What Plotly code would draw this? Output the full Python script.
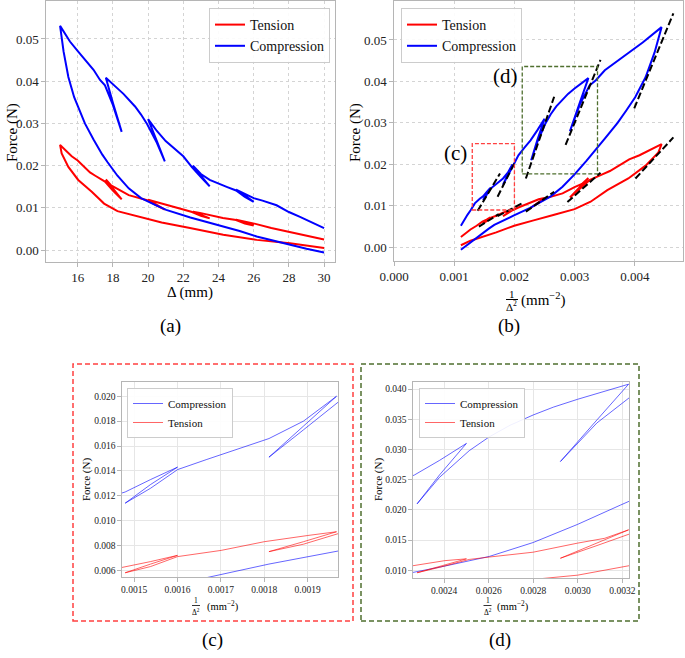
import plotly.graph_objects as go

# ---------------- data ----------------
# Compression path: displacement Delta (mm) and force (N)
comp_delta = [30.0, 29.5, 29.0, 28.6, 28.0, 27.3, 26.5, 26.0, 25.5, 25.0,
              25.5, 26.0, 25.5, 25.0,
              24.5, 24.0, 23.5, 23.0, 22.55,
              23.0, 23.5, 23.0, 22.5,
              22.0, 21.5, 21.0, 20.5, 20.0,
              20.5, 20.95, 20.5, 19.95,
              19.6, 19.26, 18.9, 18.6, 18.26, 17.93, 17.6,
              18.0, 18.5, 18.0, 17.55,
              17.27, 16.9, 16.41, 16.03, 15.56, 15.0,
              15.2, 15.47, 15.8, 16.1, 16.41, 16.9, 17.4, 17.7, 18.26, 18.9,
              19.6, 20.4, 21.03, 22.4, 23.5, 24.5, 25.2, 26.17, 27.0, 28.06,
              29.0, 30.0]
comp_force = [0.0052, 0.0062, 0.0071, 0.0079, 0.0090, 0.0106, 0.0117, 0.0123, 0.0133, 0.0143,
              0.0129, 0.0114, 0.0126, 0.0141,
              0.0149, 0.0157, 0.0166, 0.0180, 0.0200,
              0.0176, 0.0151, 0.0173, 0.0196,
              0.0222, 0.0240, 0.0258, 0.0282, 0.0310,
              0.0258, 0.0210, 0.0254, 0.0298,
              0.0321, 0.0340, 0.0357, 0.0370, 0.0383, 0.0395, 0.0408,
              0.0349, 0.0280, 0.0344, 0.0390,
              0.0403, 0.0427, 0.0450, 0.0470, 0.0494, 0.0531,
              0.0470, 0.0410, 0.0362, 0.0330, 0.0300, 0.0262, 0.0226, 0.0208, 0.0176, 0.0146,
              0.0123, 0.0107, 0.0095, 0.0077, 0.0065, 0.0054, 0.0045, 0.0032, 0.0023, 0.0012,
              0.0003, -0.0006]

# Tension path
tens_delta = [30.0, 29.0, 28.06, 27.0, 26.1, 25.5, 25.0,
              25.5, 26.0, 25.5, 25.0,
              24.25, 23.57, 22.94, 22.55,
              23.0, 23.5, 23.0, 22.5,
              22.0, 21.5, 21.03, 20.4, 20.0,
              20.5, 20.95, 20.5, 19.95,
              19.6, 18.9, 18.26, 17.9, 17.6,
              18.0, 18.5, 18.0, 17.55,
              17.0, 16.7, 16.0, 15.66, 15.0,
              15.09, 15.47, 16.03, 16.8, 17.5, 18.26, 18.9, 19.44, 20.77, 22.38,
              24.27, 26.17, 28.06, 30.0]
tens_force = [0.0025, 0.0034, 0.0043, 0.0052, 0.0062, 0.0067, 0.0072,
              0.0065, 0.0058, 0.0063, 0.0071,
              0.0076, 0.0083, 0.0088, 0.0091,
              0.0083, 0.0075, 0.0081, 0.0090,
              0.0096, 0.0102, 0.0108, 0.0116, 0.0119,
              0.0107, 0.0096, 0.0105, 0.0118,
              0.0122, 0.0130, 0.0145, 0.0153, 0.0167,
              0.0145, 0.0120, 0.0141, 0.0162,
              0.0176, 0.0184, 0.0212, 0.0222, 0.0249,
              0.0229, 0.0197, 0.0166, 0.0138, 0.0110, 0.0092, 0.0085, 0.0078, 0.0065, 0.0052,
              0.0036, 0.0024, 0.0016, 0.0005]

# Linear-fit dashed segments in panel (b): start/end (1/Delta^2, force)
fit_x0 = [0.00139, 0.00172, 0.00219, 0.00285, 0.00399, 0.00401, 0.00288, 0.00219, 0.00141, 0.00172]
fit_f0 = [0.0088, 0.0122, 0.0166, 0.0247, 0.0335, 0.0166, 0.0109, 0.0086, 0.0050, 0.0075]
fit_x1 = [0.00176, 0.00200, 0.00266, 0.00343, 0.00464, 0.00464, 0.00343, 0.00266, 0.00174, 0.00214]
fit_f1 = [0.0178, 0.0203, 0.0363, 0.0452, 0.0564, 0.0265, 0.0180, 0.0134, 0.0080, 0.0107]

# Zoom regions marked in panel (b): [x0, x1, y0, y1]
zoom_c = [0.0013, 0.0020, 0.0090, 0.0250]
zoom_d = [0.00213, 0.00338, 0.0177, 0.0436]

a_xticks = [16, 18, 20, 22, 24, 26, 28, 30]
a_yticks = [0.00, 0.01, 0.02, 0.03, 0.04, 0.05]
b_xticks = [0.000, 0.001, 0.002, 0.003, 0.004]
c_xticks = [0.0015, 0.0016, 0.0017, 0.0018, 0.0019]
c_yticks = [0.006, 0.008, 0.010, 0.012, 0.014, 0.016, 0.018, 0.020]
d_xticks = [0.0024, 0.0026, 0.0028, 0.0030, 0.0032]
d_yticks = [0.010, 0.015, 0.020, 0.025, 0.030, 0.035, 0.040]

comp_inv = [1.0 / d ** 2 for d in comp_delta]
tens_inv = [1.0 / d ** 2 for d in tens_delta]

# ---------------- figure ----------------
W, H = 685, 658
SERIF = "Liberation Serif"
RED, BLUE = "#ff0000", "#0000ff"


def X(p):
    return p / W


def Y(p):
    return 1 - p / H


fig = go.Figure()

# panel (a)
fig.add_trace(go.Scatter(x=tens_delta, y=tens_force, mode="lines", name="Tension",
                         line=dict(color=RED, width=2), xaxis="x", yaxis="y", legend="legend"))
fig.add_trace(go.Scatter(x=comp_delta, y=comp_force, mode="lines", name="Compression",
                         line=dict(color=BLUE, width=2), xaxis="x", yaxis="y", legend="legend"))
# panel (b)
fig.add_trace(go.Scatter(x=tens_inv, y=tens_force, mode="lines", name="Tension",
                         line=dict(color=RED, width=2), xaxis="x2", yaxis="y2", legend="legend2"))
fig.add_trace(go.Scatter(x=comp_inv, y=comp_force, mode="lines", name="Compression",
                         line=dict(color=BLUE, width=2), xaxis="x2", yaxis="y2", legend="legend2"))
fx, fy = [], []
for a0, b0, a1, b1 in zip(fit_x0, fit_f0, fit_x1, fit_f1):
    fx += [a0, a1, None]
    fy += [b0, b1, None]
fig.add_trace(go.Scatter(x=fx, y=fy, mode="lines", showlegend=False,
                         line=dict(color="black", width=2, dash="7px,3px"),
                         xaxis="x2", yaxis="y2"))
# panel (c)
fig.add_trace(go.Scatter(x=comp_inv, y=comp_force, mode="lines", name="Compression",
                         line=dict(color="rgba(0,0,255,0.6)", width=1), xaxis="x3", yaxis="y3",
                         legend="legend3"))
fig.add_trace(go.Scatter(x=tens_inv, y=tens_force, mode="lines", name="Tension",
                         line=dict(color="rgba(255,0,0,0.6)", width=1), xaxis="x3", yaxis="y3",
                         legend="legend3"))
# panel (d)
fig.add_trace(go.Scatter(x=comp_inv, y=comp_force, mode="lines", name="Compression",
                         line=dict(color="rgba(0,0,255,0.6)", width=1), xaxis="x4", yaxis="y4",
                         legend="legend4"))
fig.add_trace(go.Scatter(x=tens_inv, y=tens_force, mode="lines", name="Tension",
                         line=dict(color="rgba(255,0,0,0.6)", width=1), xaxis="x4", yaxis="y4",
                         legend="legend4"))


def ax(domain, rng, tickvals, fmt, anchor, size, grid="dot", lc="#b5b5b5"):
    return dict(domain=domain, range=rng, tickvals=tickvals, tickformat=fmt, anchor=anchor,
                showline=True, mirror=True, linecolor=lc, linewidth=1.2,
                showgrid=True, gridcolor="#d4d4d4", griddash=grid, gridwidth=1,
                ticks="outside", ticklen=3.5, tickcolor=lc, zeroline=False, automargin=False,
                tickfont=dict(family=SERIF, size=size, color="#222"))


layout_axes = dict(
    xaxis=ax([X(46), X(335)], [14.2, 30.62], a_xticks, "d", "y", 13),
    yaxis=ax([Y(262), Y(1)], [-0.00284, 0.059], a_yticks, ".2f", "x", 13),
    xaxis2=ax([X(394), X(683)], [0, 0.0048], b_xticks, ".3f", "y2", 13),
    yaxis2=ax([Y(261), Y(1)], [-0.0033, 0.0594], a_yticks, ".2f", "x2", 13),
    xaxis3=ax([X(122), X(338)], [0.001472, 0.00197], c_xticks, ".4f", "y3", 9.5, "solid"),
    yaxis3=ax([Y(577), Y(382)], [0.00546, 0.02115], c_yticks, ".3f", "x3", 9.5, "solid"),
    xaxis4=ax([X(413), X(629)], [0.00226, 0.00323], d_xticks, ".4f", "y4", 9.5, "solid"),
    yaxis4=ax([Y(578), Y(382)], [0.00873, 0.04116], d_yticks, ".3f", "x4", 9.5, "solid"),
)
for k in ("xaxis3", "yaxis3", "xaxis4", "yaxis4"):
    layout_axes[k]["gridcolor"] = "#e6e6e6"


def leg(x, y, xanchor, size):
    return dict(x=x, y=y, xanchor=xanchor, yanchor="top", bgcolor="rgba(255,255,255,0.9)",
                bordercolor="#cccccc", borderwidth=1, font=dict(family=SERIF, size=size, color="#111"),
                itemwidth=30, tracegroupgap=0)


shapes = [
    # zoom regions in (b)
    dict(type="rect", xref="x2", yref="y2", x0=zoom_c[0], x1=zoom_c[1], y0=zoom_c[2], y1=zoom_c[3],
         line=dict(color="#ff4040", width=1.3, dash="4px,2px")),
    dict(type="rect", xref="x2", yref="y2", x0=zoom_d[0], x1=zoom_d[1], y0=zoom_d[2], y1=zoom_d[3],
         line=dict(color="#4f6f2f", width=1.3, dash="4px,2px")),
    # outer frames of insets
    dict(type="rect", xref="paper", yref="paper", x0=X(73), x1=X(353), y0=Y(621), y1=Y(364),
         line=dict(color="#ff4040", width=1.5, dash="5px,3px")),
    dict(type="rect", xref="paper", yref="paper", x0=X(361), x1=X(639), y0=Y(621), y1=Y(364),
         line=dict(color="#4f6f2f", width=1.5, dash="5px,3px")),
    # fraction bars
    dict(type="line", xref="paper", yref="paper", x0=X(506), x1=X(518), y0=Y(299.5), y1=Y(299.5),
         line=dict(color="black", width=1)),
    dict(type="line", xref="paper", yref="paper", x0=X(192), x1=X(200), y0=Y(605.5), y1=Y(605.5),
         line=dict(color="black", width=0.8)),
    dict(type="line", xref="paper", yref="paper", x0=X(483.5), x1=X(491.5), y0=Y(605.5), y1=Y(605.5),
         line=dict(color="black", width=0.8)),
]


def ann(x, y, text, size, angle=0):
    return dict(x=X(x), y=Y(y), xref="paper", yref="paper", text=text, showarrow=False,
                xanchor="center", yanchor="middle", textangle=angle,
                font=dict(family=SERIF, size=size, color="black"))


annotations = [
    ann(12, 133, "Force (N)", 15, -90),
    ann(190, 292, "Δ (mm)", 15),
    ann(355, 133, "Force (N)", 15, -90),
    ann(512, 293.5, "1", 11),
    ann(512, 306, "Δ<sup>2</sup>", 11),
    ann(543, 299.5, "(mm<sup>−2</sup>)", 15),
    ann(170, 326, "(a)", 19),
    ann(509, 326, "(b)", 19),
    ann(213, 640, "(c)", 19),
    ann(500, 640, "(d)", 19),
    ann(455, 153, "(c)", 21),
    ann(505, 76, "(d)", 21),
    # inset (c) titles
    ann(86, 480, "Force (N)", 11, -90),
    ann(196, 600.5, "1", 7.5),
    ann(196, 611.5, "Δ<sup>2</sup>", 7.5),
    ann(223, 606, "(mm<sup>−2</sup>)", 10.5),
    # inset (d) titles
    ann(378, 480, "Force (N)", 11, -90),
    ann(487.5, 600.5, "1", 7.5),
    ann(487.5, 611.5, "Δ<sup>2</sup>", 7.5),
    ann(513, 606, "(mm<sup>−2</sup>)", 10.5),
]

fig.update_layout(
    width=W, height=H, margin=dict(l=0, r=0, t=0, b=0, autoexpand=False),
    paper_bgcolor="white", plot_bgcolor="white",
    font=dict(family=SERIF, color="black"),
    legend=leg(X(330), Y(8), "right", 14),
    legend2=leg(X(401), Y(8), "left", 14),
    legend3=leg(X(127), Y(388), "left", 11),
    legend4=leg(X(419), Y(388), "left", 11),
    shapes=shapes, annotations=annotations,
    **layout_axes,
)

fig.write_html("out.html", config={"responsive": False, "displayModeBar": False},
               post_script="document.body.style.margin='0';document.body.style.overflow='hidden';")
